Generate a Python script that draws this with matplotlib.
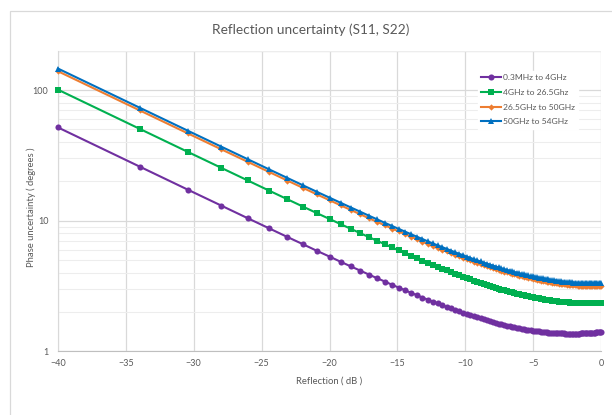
import matplotlib
matplotlib.use("Agg")
import matplotlib.pyplot as plt
from matplotlib.patches import Rectangle
from matplotlib.ticker import LogLocator, NullFormatter, FixedLocator, FixedFormatter

plt.rcParams['font.family'] = ['Lato', 'DejaVu Sans']

title = "Reflection uncertainty (S11, S22)"
x_label = "Reflection ( dB )"
y_label = "Phase uncertainty ( degrees )"
series_names = ["0.3MHz to 4GHz", "4GHz to 26.5Ghz", "26.5GHz to 50GHz", "50GHz to 54GHz"]

reflection_db = [
    -40.00, -33.98, -30.46, -27.96, -26.02, -24.44, -23.10, -21.94, -20.92, -20.00,
    -19.17, -18.42, -17.72, -17.08, -16.48, -15.92, -15.39, -14.89, -14.42, -13.98,
    -13.56, -13.15, -12.77, -12.40, -12.04, -11.70, -11.37, -11.06, -10.75, -10.46,
    -10.17, -9.90, -9.63, -9.37, -9.12, -8.87, -8.64, -8.40, -8.18, -7.96,
    -7.74, -7.54, -7.33, -7.13, -6.94, -6.74, -6.56, -6.38, -6.20, -6.02,
    -5.85, -5.68, -5.51, -5.35, -5.19, -5.04, -4.88, -4.73, -4.58, -4.44,
    -4.29, -4.15, -4.01, -3.88, -3.74, -3.61, -3.48, -3.35, -3.22, -3.10,
    -2.97, -2.85, -2.73, -2.62, -2.50, -2.38, -2.27, -2.16, -2.05, -1.94,
    -1.83, -1.72, -1.62, -1.51, -1.41, -1.31, -1.21, -1.11, -1.01, -0.92,
    -0.82, -0.72, -0.63, -0.54, -0.45, -0.35, -0.26, -0.18, -0.09, 0.00,
]

s_03_4 = [
    51.84, 25.95, 17.32, 13.02, 10.43, 8.72, 7.49, 6.58, 5.86, 5.30,
    4.83, 4.45, 4.13, 3.85, 3.61, 3.41, 3.22, 3.06, 2.92, 2.79,
    2.68, 2.57, 2.48, 2.39, 2.32, 2.25, 2.18, 2.12, 2.06, 2.01,
    1.97, 1.92, 1.88, 1.84, 1.81, 1.78, 1.75, 1.72, 1.69, 1.667,
    1.644, 1.622, 1.603, 1.583, 1.566, 1.549, 1.534, 1.519, 1.506, 1.493,
    1.482, 1.470, 1.460, 1.450, 1.442, 1.433, 1.426, 1.418, 1.412, 1.405,
    1.400, 1.394, 1.390, 1.385, 1.382, 1.378, 1.375, 1.372, 1.370, 1.367,
    1.366, 1.363, 1.363, 1.361, 1.361, 1.360, 1.360, 1.359, 1.360, 1.360,
    1.360, 1.361, 1.362, 1.363, 1.364, 1.365, 1.367, 1.369, 1.371, 1.373,
    1.375, 1.377, 1.380, 1.382, 1.385, 1.388, 1.391, 1.394, 1.397, 1.400,
]

s_4_265 = [
    100.99, 50.56, 33.75, 25.36, 20.32, 16.97, 14.58, 12.79, 11.40, 10.30,
    9.39, 8.64, 8.00, 7.46, 6.99, 6.59, 6.23, 5.91, 5.63, 5.38,
    5.15, 4.94, 4.75, 4.58, 4.43, 4.29, 4.15, 4.03, 3.92, 3.82,
    3.72, 3.63, 3.55, 3.47, 3.40, 3.33, 3.27, 3.21, 3.15, 3.10,
    3.05, 3.01, 2.96, 2.92, 2.88, 2.85, 2.81, 2.78, 2.75, 2.72,
    2.70, 2.67, 2.65, 2.62, 2.60, 2.58, 2.56, 2.545, 2.528, 2.512,
    2.497, 2.482, 2.470, 2.457, 2.445, 2.434, 2.424, 2.414, 2.405, 2.396,
    2.389, 2.381, 2.375, 2.369, 2.363, 2.358, 2.353, 2.349, 2.345, 2.341,
    2.338, 2.335, 2.333, 2.331, 2.330, 2.328, 2.327, 2.327, 2.326, 2.326,
    2.326, 2.327, 2.327, 2.328, 2.330, 2.331, 2.333, 2.335, 2.337, 2.339,
]

s_265_50 = [
    139.85, 70.06, 46.81, 35.19, 28.23, 23.59, 20.28, 17.80, 15.88, 14.34,
    13.09, 12.05, 11.17, 10.41, 9.77, 9.20, 8.70, 8.26, 7.87, 7.51,
    7.20, 6.91, 6.65, 6.41, 6.19, 5.99, 5.81, 5.64, 5.48, 5.34,
    5.20, 5.08, 4.96, 4.85, 4.75, 4.65, 4.57, 4.48, 4.40, 4.33,
    4.26, 4.19, 4.13, 4.07, 4.02, 3.96, 3.91, 3.87, 3.82, 3.78,
    3.74, 3.71, 3.67, 3.64, 3.60, 3.57, 3.55, 3.52, 3.49, 3.47,
    3.45, 3.42, 3.40, 3.38, 3.37, 3.35, 3.33, 3.32, 3.30, 3.29,
    3.275, 3.263, 3.252, 3.241, 3.231, 3.222, 3.213, 3.206, 3.198, 3.191,
    3.184, 3.178, 3.174, 3.169, 3.164, 3.160, 3.157, 3.154, 3.152, 3.149,
    3.147, 3.145, 3.145, 3.144, 3.143, 3.143, 3.143, 3.144, 3.145, 3.146,
]

s_50_54 = [
    146.62, 73.43, 49.05, 36.87, 29.56, 24.70, 21.23, 18.63, 16.61, 15.00,
    13.69, 12.60, 11.68, 10.89, 10.21, 9.61, 9.09, 8.63, 8.22, 7.85,
    7.52, 7.22, 6.94, 6.69, 6.47, 6.26, 6.07, 5.89, 5.72, 5.57,
    5.43, 5.30, 5.18, 5.06, 4.96, 4.86, 4.76, 4.68, 4.59, 4.52,
    4.44, 4.37, 4.31, 4.25, 4.19, 4.14, 4.09, 4.04, 3.99, 3.95,
    3.91, 3.87, 3.83, 3.80, 3.76, 3.73, 3.70, 3.68, 3.65, 3.62,
    3.60, 3.58, 3.56, 3.54, 3.52, 3.50, 3.48, 3.47, 3.45, 3.44,
    3.43, 3.41, 3.40, 3.39, 3.38, 3.37, 3.36, 3.356, 3.349, 3.342,
    3.335, 3.330, 3.325, 3.321, 3.316, 3.312, 3.310, 3.307, 3.305, 3.303,
    3.301, 3.300, 3.299, 3.299, 3.299, 3.299, 3.300, 3.301, 3.303, 3.304,
]

x_ticks = [-40, -35, -30, -25, -20, -15, -10, -5, 0]
y_ticks = [1, 10, 100]
y_tick_labels = ["1", "10", "100"]

colors = ["#7030A0", "#00B050", "#ED7D31", "#0070C0"]
markers = ["o", "s", "D", "^"]
msizes = [4.4, 4.4, 3.2, 4.8]

W, H = 612, 415
fig = plt.figure(figsize=(W / 100, H / 100), dpi=100)
fig.patch.set_facecolor("white")

# chart-area border (only left and top visible in crop)
fig.patches.append(Rectangle((10 / W, -0.1), 1.2, 1 - 11 / H + 0.1, transform=fig.transFigure,
                             fill=False, edgecolor="#D9D9D9", linewidth=0.9, zorder=0))

ax = fig.add_axes([58 / W, (H - 351) / H, (601 - 58) / W, 300 / H])
ax.set_yscale("log")
ax.set_xlim(-40, 0)
ax.set_ylim(1, 200)

all_series = [s_03_4, s_4_265, s_265_50, s_50_54]
for ys, name, c, m, ms in zip(all_series, series_names, colors, markers, msizes):
    ax.plot(reflection_db, ys, color=c, marker=m, markersize=ms, linewidth=1.5,
            markeredgewidth=0, label=name, clip_on=False, zorder=3)

ax.xaxis.set_major_locator(FixedLocator(x_ticks))
ax.yaxis.set_major_locator(FixedLocator(y_ticks))
ax.yaxis.set_major_formatter(FixedFormatter(y_tick_labels))
ax.yaxis.set_minor_locator(LogLocator(base=10, subs=range(2, 10)))
ax.yaxis.set_minor_formatter(NullFormatter())

ax.grid(True, which="major", axis="both", color="#D9D9D9", linewidth=0.9)
ax.grid(True, which="minor", axis="y", color="#EDEDED", linewidth=0.8)
ax.set_axisbelow(True)

for s in ["top", "right"]:
    ax.spines[s].set_visible(False)
ax.spines["bottom"].set_color("#BFBFBF")
ax.spines["left"].set_color("#D9D9D9")
ax.axhline(200, color="#D9D9D9", linewidth=0.9, zorder=0)

ax.tick_params(axis="both", which="both", length=0, colors="#595959", labelsize=6.5)
ax.tick_params(axis="x", pad=6)
ax.tick_params(axis="y", pad=7)

ax.set_xlabel(x_label, fontsize=6.8, color="#595959", labelpad=6)
ax.set_ylabel(y_label, fontsize=6.8, color="#595959", labelpad=6)
ax.yaxis.set_label_coords(31 / W, 0.5, transform=fig.transFigure)
ax.yaxis.label.set_va("center")

fig.text(311 / W, 1 - 30 / H, title, ha="center", va="center", fontsize=9.8, color="#595959")

# white box behind the legend (covers the gridlines like the reference)
fig.patches.append(Rectangle((467 / W, 1 - 143 / H), (580 - 467) / W, (143 - 62) / H,
                             transform=fig.transFigure, facecolor="white", edgecolor="none", zorder=1))
ax.set_zorder(2)
ax.patch.set_alpha(0)

leg = ax.legend(loc="upper left", bbox_to_anchor=(478 / W, 1 - 71 / H),
                bbox_transform=fig.transFigure, frameon=True, fontsize=6.1,
                labelspacing=0.9, handlelength=2.3, handletextpad=0.2,
                borderpad=0.4, borderaxespad=0)
leg.get_frame().set_facecolor("white")
leg.get_frame().set_edgecolor("white")
leg.get_frame().set_alpha(1)
leg.get_frame().set_boxstyle("square", pad=0)
for t in leg.get_texts():
    t.set_color("#595959")

fig.savefig("out.png", dpi=100)
